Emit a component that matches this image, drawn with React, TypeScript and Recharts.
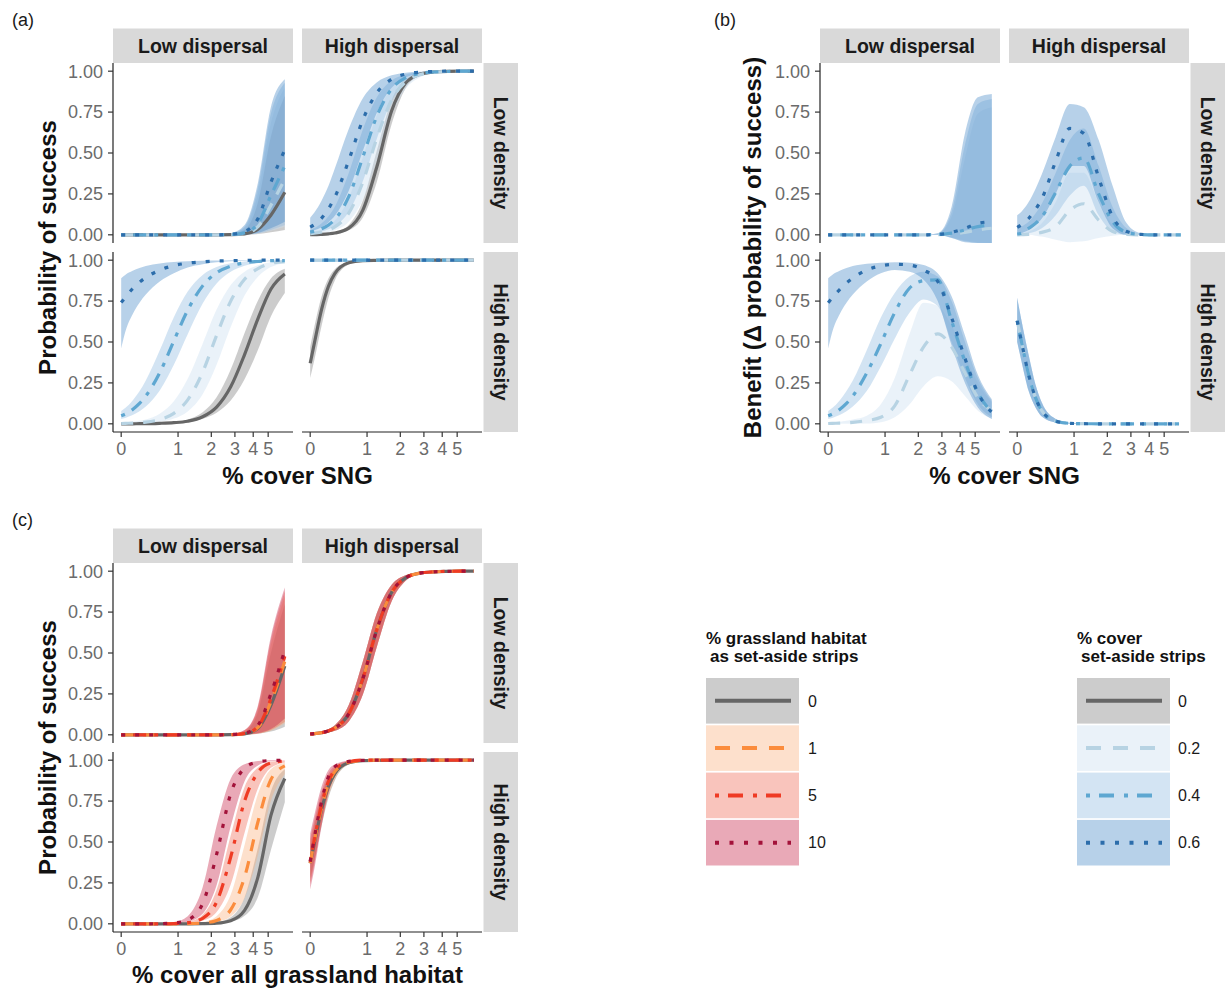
import React from 'react';
import { ComposedChart, Area, Line, XAxis, YAxis } from 'recharts';

// ---------- shared axes ----------
const X_COVER = [0, 0.05, 0.15, 0.25, 0.35, 0.6, 0.9, 1.25, 1.7, 2.2, 2.8, 3.5, 4.3, 5.2, 6.35];
const X_TICK_VALUES = [0, 1, 2, 3, 4, 5];
const Y_TICK_VALUES = [0, 0.25, 0.5, 0.75, 1];

// ---------- (a) Probability of success vs % cover SNG ----------
// Low dispersal / Low density
const aLL_0 = [0, 0, 0, 0, 0, 0, 0, 0, 0, 0, 0.001, 0.006, 0.035, 0.12, 0.26];
const aLL_0_lo = [0, 0, 0, 0, 0, 0, 0, 0, 0, 0, 0, 0.001, 0.005, 0.015, 0.03];
const aLL_0_hi = [0, 0, 0, 0, 0, 0, 0, 0, 0, 0, 0.004, 0.03, 0.2, 0.6, 0.85];
const aLL_2 = [0, 0, 0, 0, 0, 0, 0, 0, 0, 0, 0.001, 0.008, 0.05, 0.18, 0.34];
const aLL_2_lo = [0, 0, 0, 0, 0, 0, 0, 0, 0, 0, 0, 0.001, 0.007, 0.025, 0.05];
const aLL_2_hi = [0, 0, 0, 0, 0, 0, 0, 0, 0, 0, 0.005, 0.04, 0.25, 0.68, 0.9];
const aLL_4 = [0, 0, 0, 0, 0, 0, 0, 0, 0, 0, 0.002, 0.012, 0.07, 0.24, 0.42];
const aLL_4_lo = [0, 0, 0, 0, 0, 0, 0, 0, 0, 0, 0, 0.002, 0.009, 0.03, 0.06];
const aLL_4_hi = [0, 0, 0, 0, 0, 0, 0, 0, 0, 0, 0.007, 0.05, 0.29, 0.74, 0.93];
const aLL_6 = [0, 0, 0, 0, 0, 0, 0, 0, 0, 0, 0.003, 0.02, 0.1, 0.32, 0.52];
const aLL_6_lo = [0, 0, 0, 0, 0, 0, 0, 0, 0, 0, 0, 0.003, 0.012, 0.04, 0.08];
const aLL_6_hi = [0, 0, 0, 0, 0, 0, 0, 0, 0, 0, 0.01, 0.06, 0.32, 0.78, 0.95];
// High dispersal / Low density
const aHL_0 = [0.001, 0.001, 0.003, 0.006, 0.011, 0.041, 0.151, 0.413, 0.758, 0.927, 0.981, 0.995, 0.999, 1, 1];
const aHL_0_lo = [0, 0, 0.002, 0.004, 0.007, 0.028, 0.106, 0.321, 0.677, 0.895, 0.972, 0.993, 0.998, 1, 1];
const aHL_0_hi = [0.001, 0.002, 0.004, 0.008, 0.016, 0.06, 0.209, 0.512, 0.823, 0.95, 0.987, 0.997, 1, 1, 1];
const aHL_2 = [0.007, 0.01, 0.017, 0.029, 0.048, 0.132, 0.322, 0.589, 0.825, 0.935, 0.978, 0.993, 0.998, 1, 1];
const aHL_2_lo = [0.004, 0.005, 0.01, 0.017, 0.028, 0.08, 0.214, 0.45, 0.729, 0.892, 0.962, 0.987, 0.996, 0.999, 1];
const aHL_2_hi = [0.013, 0.018, 0.032, 0.054, 0.087, 0.224, 0.474, 0.731, 0.899, 0.965, 0.988, 0.996, 0.999, 1, 1];
const aHL_4 = [0.016, 0.021, 0.037, 0.06, 0.094, 0.233, 0.475, 0.723, 0.892, 0.96, 0.986, 0.995, 0.998, 1, 1];
const aHL_4_lo = [0.008, 0.011, 0.02, 0.034, 0.053, 0.141, 0.328, 0.586, 0.816, 0.929, 0.975, 0.991, 0.997, 1, 1];
const aHL_4_hi = [0.03, 0.041, 0.071, 0.114, 0.172, 0.378, 0.644, 0.839, 0.943, 0.98, 0.993, 0.998, 1, 1, 1];
const aHL_6 = [0.047, 0.062, 0.102, 0.159, 0.23, 0.455, 0.703, 0.867, 0.951, 0.982, 0.994, 0.998, 1, 1, 1];
const aHL_6_lo = [0.021, 0.028, 0.047, 0.076, 0.116, 0.269, 0.513, 0.745, 0.898, 0.961, 0.986, 0.995, 0.998, 1, 1];
const aHL_6_hi = [0.105, 0.135, 0.21, 0.3, 0.405, 0.647, 0.835, 0.931, 0.975, 0.991, 0.997, 1, 1, 1, 1];
// Low dispersal / High density
const aLH_0 = [0, 0, 0, 0.001, 0.001, 0.003, 0.007, 0.016, 0.043, 0.102, 0.226, 0.423, 0.643, 0.822, 0.915];
const aLH_0_lo = [0, 0, 0, 0, 0.001, 0.003, 0.006, 0.013, 0.031, 0.068, 0.143, 0.273, 0.453, 0.656, 0.8];
const aLH_0_hi = [0, 0, 0.001, 0.001, 0.002, 0.004, 0.011, 0.027, 0.071, 0.162, 0.332, 0.555, 0.754, 0.888, 0.948];
const aLH_2 = [0.002, 0.003, 0.004, 0.007, 0.01, 0.026, 0.064, 0.146, 0.316, 0.54, 0.75, 0.883, 0.949, 0.98, 0.991];
const aLH_2_lo = [0.001, 0.001, 0.002, 0.003, 0.005, 0.012, 0.032, 0.076, 0.181, 0.361, 0.591, 0.784, 0.899, 0.958, 0.982];
const aLH_2_hi = [0.006, 0.008, 0.012, 0.018, 0.027, 0.062, 0.138, 0.275, 0.49, 0.698, 0.848, 0.93, 0.969, 0.987, 0.994];
const aLH_4 = [0.049, 0.059, 0.088, 0.125, 0.17, 0.312, 0.507, 0.695, 0.843, 0.923, 0.964, 0.984, 0.992, 0.997, 0.998];
const aLH_4_lo = [0.029, 0.036, 0.054, 0.077, 0.106, 0.204, 0.361, 0.548, 0.735, 0.858, 0.93, 0.966, 0.984, 0.993, 0.996];
const aLH_4_hi = [0.078, 0.096, 0.143, 0.199, 0.265, 0.449, 0.652, 0.809, 0.91, 0.958, 0.981, 0.992, 0.997, 0.999, 1];
const aLH_6 = [0.741, 0.772, 0.826, 0.865, 0.894, 0.939, 0.967, 0.982, 0.99, 0.995, 0.997, 0.999, 1, 1, 1];
const aLH_6_lo = [0.46, 0.56, 0.67, 0.74, 0.79, 0.87, 0.92, 0.955, 0.975, 0.987, 0.993, 0.997, 0.999, 1, 1];
const aLH_6_hi = [0.89, 0.91, 0.935, 0.952, 0.964, 0.98, 0.989, 0.994, 0.997, 0.998, 1, 1, 1, 1, 1];
// High dispersal / High density
const aHH_0 = [0.37, 0.488, 0.701, 0.841, 0.918, 0.984, 0.997, 0.999, 1, 1, 1, 1, 1, 1, 1];
const aHH_0_lo = [0.28, 0.385, 0.601, 0.771, 0.876, 0.973, 0.995, 0.999, 1, 1, 1, 1, 1, 1, 1];
const aHH_0_hi = [0.47, 0.589, 0.78, 0.889, 0.945, 0.989, 0.998, 1, 1, 1, 1, 1, 1, 1, 1];
const aHH_strips = [1, 1, 1, 1, 1, 1, 1, 1, 1, 1, 1, 1, 1, 1, 1];
const aHH_strips_lo = [0.992, 0.992, 0.992, 0.992, 0.992, 0.992, 0.992, 0.992, 0.992, 0.992, 0.992, 0.992, 0.992, 0.992, 0.992];
const aHH_strips_hi = [1, 1, 1, 1, 1, 1, 1, 1, 1, 1, 1, 1, 1, 1, 1];

// ---------- (b) Benefit (delta probability of success) ----------
const bLL_2 = [0, 0, 0, 0, 0, 0, 0, 0, 0, 0, 0.001, 0.005, 0.015, 0.03, 0.04];
const bLL_2_lo = [0, 0, 0, 0, 0, 0, 0, 0, 0, 0, 0, -0.015, -0.035, -0.045, -0.05];
const bLL_2_hi = [0, 0, 0, 0, 0, 0, 0, 0, 0, 0, 0.006, 0.11, 0.47, 0.74, 0.78];
const bLL_4 = [0, 0, 0, 0, 0, 0, 0, 0, 0, 0, 0.002, 0.01, 0.03, 0.05, 0.06];
const bLL_4_lo = [0, 0, 0, 0, 0, 0, 0, 0, 0, 0, 0, -0.018, -0.04, -0.05, -0.05];
const bLL_4_hi = [0, 0, 0, 0, 0, 0, 0, 0, 0, 0, 0.008, 0.14, 0.55, 0.8, 0.83];
const bLL_6 = [0, 0, 0, 0, 0, 0, 0, 0, 0, 0, 0.002, 0.015, 0.04, 0.07, 0.08];
const bLL_6_lo = [0, 0, 0, 0, 0, 0, 0, 0, 0, 0, 0, -0.02, -0.045, -0.05, -0.05];
const bLL_6_hi = [0, 0, 0, 0, 0, 0, 0, 0, 0, 0, 0.01, 0.17, 0.62, 0.84, 0.86];

const bHL_2 = [0, 0.001, 0.003, 0.007, 0.015, 0.05, 0.15, 0.19, 0.09, 0.02, 0.003, 0, 0, 0, 0];
const bHL_2_lo = [0, 0, 0, -0.005, -0.01, -0.03, -0.045, -0.04, -0.02, -0.005, 0, 0, 0, 0, 0];
const bHL_2_hi = [0.01, 0.01, 0.02, 0.04, 0.07, 0.2, 0.38, 0.38, 0.2, 0.06, 0.01, 0, 0, 0, 0];
const bHL_4 = [0.005, 0.01, 0.04, 0.07, 0.11, 0.26, 0.42, 0.47, 0.25, 0.08, 0.015, 0.002, 0, 0, 0];
const bHL_4_lo = [0, 0, 0.01, 0.02, 0.04, 0.12, 0.24, 0.3, 0.12, 0.02, 0, 0, 0, 0, 0];
const bHL_4_hi = [0.04, 0.05, 0.08, 0.13, 0.19, 0.38, 0.58, 0.65, 0.42, 0.17, 0.04, 0.005, 0, 0, 0];
const bHL_6 = [0.045, 0.06, 0.1, 0.155, 0.22, 0.45, 0.65, 0.62, 0.35, 0.11, 0.02, 0.003, 0, 0, 0];
const bHL_6_lo = [0, 0.01, 0.03, 0.06, 0.1, 0.25, 0.42, 0.42, 0.2, 0.04, 0, 0, 0, 0, 0];
const bHL_6_hi = [0.12, 0.14, 0.2, 0.28, 0.37, 0.6, 0.8, 0.78, 0.58, 0.3, 0.07, 0.01, 0.002, 0, 0];

const bLH_2 = [0.002, 0.003, 0.004, 0.006, 0.009, 0.02, 0.04, 0.11, 0.3, 0.47, 0.55, 0.47, 0.31, 0.16, 0.08];
const bLH_2_lo = [0, 0, 0, 0, 0, 0.002, 0.01, 0.04, 0.12, 0.23, 0.29, 0.26, 0.17, 0.08, 0.03];
const bLH_2_hi = [0.006, 0.008, 0.012, 0.018, 0.027, 0.05, 0.12, 0.28, 0.55, 0.74, 0.72, 0.6, 0.42, 0.25, 0.13];
const bLH_4 = [0.049, 0.059, 0.088, 0.125, 0.17, 0.31, 0.49, 0.68, 0.83, 0.875, 0.88, 0.63, 0.38, 0.19, 0.07];
const bLH_4_lo = [0.029, 0.036, 0.054, 0.077, 0.106, 0.2, 0.35, 0.52, 0.68, 0.76, 0.72, 0.5, 0.28, 0.12, 0.04];
const bLH_4_hi = [0.078, 0.096, 0.143, 0.2, 0.265, 0.45, 0.65, 0.8, 0.9, 0.93, 0.9, 0.75, 0.5, 0.28, 0.14];
const bLH_6 = [0.74, 0.77, 0.82, 0.86, 0.89, 0.94, 0.965, 0.975, 0.97, 0.94, 0.87, 0.65, 0.4, 0.19, 0.07];
const bLH_6_lo = [0.46, 0.56, 0.67, 0.74, 0.79, 0.87, 0.92, 0.94, 0.93, 0.88, 0.75, 0.48, 0.25, 0.1, 0.03];
const bLH_6_hi = [0.89, 0.91, 0.935, 0.952, 0.964, 0.978, 0.985, 0.988, 0.985, 0.97, 0.92, 0.78, 0.54, 0.3, 0.15];

const bHH = [0.63, 0.51, 0.3, 0.16, 0.08, 0.016, 0.003, 0.001, 0, 0, 0, 0, 0, 0, 0];
const bHH_lo = [0.5, 0.39, 0.2, 0.1, 0.045, 0.008, 0.001, 0, 0, 0, 0, 0, 0, 0, 0];
const bHH_hi = [0.77, 0.64, 0.42, 0.24, 0.13, 0.03, 0.006, 0.001, 0, 0, 0, 0, 0, 0, 0];

// ---------- (c) Probability of success vs % cover all grassland habitat ----------
const cLL_0 = [0, 0, 0, 0, 0, 0, 0, 0, 0, 0, 0.001, 0.005, 0.04, 0.18, 0.42];
const cLL_0_lo = [0, 0, 0, 0, 0, 0, 0, 0, 0, 0, 0, 0.001, 0.006, 0.02, 0.05];
const cLL_0_hi = [0, 0, 0, 0, 0, 0, 0, 0, 0, 0, 0.003, 0.02, 0.14, 0.5, 0.8];
const cLL_1 = [0, 0, 0, 0, 0, 0, 0, 0, 0, 0, 0.001, 0.006, 0.045, 0.2, 0.45];
const cLL_1_lo = [0, 0, 0, 0, 0, 0, 0, 0, 0, 0, 0, 0.001, 0.007, 0.025, 0.07];
const cLL_1_hi = [0, 0, 0, 0, 0, 0, 0, 0, 0, 0, 0.004, 0.025, 0.16, 0.55, 0.85];
const cLL_5 = [0, 0, 0, 0, 0, 0, 0, 0, 0, 0, 0.001, 0.008, 0.05, 0.22, 0.48];
const cLL_5_lo = [0, 0, 0, 0, 0, 0, 0, 0, 0, 0, 0, 0.002, 0.008, 0.03, 0.08];
const cLL_5_hi = [0, 0, 0, 0, 0, 0, 0, 0, 0, 0, 0.005, 0.028, 0.17, 0.58, 0.88];
const cLL_10 = [0, 0, 0, 0, 0, 0, 0, 0, 0, 0, 0.002, 0.01, 0.06, 0.25, 0.52];
const cLL_10_lo = [0, 0, 0, 0, 0, 0, 0, 0, 0, 0, 0, 0.002, 0.01, 0.035, 0.1];
const cLL_10_hi = [0, 0, 0, 0, 0, 0, 0, 0, 0, 0, 0.006, 0.03, 0.18, 0.6, 0.9];

const cHL = [0.005, 0.007, 0.013, 0.024, 0.041, 0.128, 0.343, 0.641, 0.871, 0.959, 0.988, 0.996, 0.999, 1, 1];
const cHL_lo = [0.003, 0.004, 0.008, 0.014, 0.025, 0.082, 0.246, 0.535, 0.816, 0.941, 0.983, 0.995, 0.998, 1, 1];
const cHL_hi = [0.007, 0.01, 0.019, 0.034, 0.059, 0.182, 0.448, 0.741, 0.917, 0.975, 0.993, 0.998, 1, 1, 1];

const cLH_0 = [0, 0, 0, 0, 0, 0, 0, 0, 0.001, 0.004, 0.019, 0.082, 0.287, 0.661, 0.888];
const cLH_0_lo = [0, 0, 0, 0, 0, 0, 0, 0, 0, 0.003, 0.013, 0.049, 0.165, 0.45, 0.743];
const cLH_0_hi = [0, 0, 0, 0, 0, 0, 0, 0, 0.002, 0.009, 0.04, 0.163, 0.467, 0.809, 0.945];
const cLH_1 = [0, 0, 0, 0, 0, 0, 0, 0.001, 0.005, 0.021, 0.086, 0.285, 0.624, 0.881, 0.965];
const cLH_1_lo = [0, 0, 0, 0, 0, 0, 0, 0, 0.003, 0.011, 0.045, 0.158, 0.421, 0.75, 0.914];
const cLH_1_hi = [0, 0, 0, 0, 0, 0, 0, 0.002, 0.011, 0.047, 0.178, 0.482, 0.794, 0.945, 0.985];
const cLH_5 = [0, 0, 0, 0, 0, 0, 0.002, 0.007, 0.034, 0.133, 0.408, 0.75, 0.926, 0.983, 0.995];
const cLH_5_lo = [0, 0, 0, 0, 0, 0, 0, 0.004, 0.019, 0.072, 0.24, 0.557, 0.829, 0.953, 0.986];
const cLH_5_hi = [0, 0, 0, 0, 0, 0, 0.003, 0.012, 0.056, 0.208, 0.54, 0.836, 0.955, 0.99, 0.997];
const cLH_10 = [0, 0, 0, 0, 0, 0.001, 0.005, 0.024, 0.124, 0.424, 0.795, 0.951, 0.99, 0.998, 1];
const cLH_10_lo = [0, 0, 0, 0, 0, 0, 0.003, 0.012, 0.061, 0.235, 0.596, 0.872, 0.968, 0.993, 0.998];
const cLH_10_hi = [0, 0, 0, 0, 0, 0.002, 0.01, 0.047, 0.223, 0.599, 0.887, 0.975, 0.995, 0.999, 1];

const cHH_0 = [0.37, 0.488, 0.701, 0.841, 0.918, 0.984, 0.997, 0.999, 1, 1, 1, 1, 1, 1, 1];
const cHH_0_lo = [0.28, 0.385, 0.601, 0.771, 0.876, 0.973, 0.995, 0.999, 1, 1, 1, 1, 1, 1, 1];
const cHH_0_hi = [0.47, 0.589, 0.78, 0.889, 0.945, 0.989, 0.998, 1, 1, 1, 1, 1, 1, 1, 1];
const cHH_1 = [0.37, 0.5, 0.71, 0.855, 0.93, 0.987, 0.998, 1, 1, 1, 1, 1, 1, 1, 1];
const cHH_1_lo = [0.26, 0.37, 0.61, 0.78, 0.88, 0.975, 0.995, 1, 1, 1, 1, 1, 1, 1, 1];
const cHH_1_hi = [0.5, 0.61, 0.79, 0.9, 0.955, 0.993, 1, 1, 1, 1, 1, 1, 1, 1, 1];
const cHH_5 = [0.38, 0.51, 0.73, 0.87, 0.94, 0.99, 1, 1, 1, 1, 1, 1, 1, 1, 1];
const cHH_5_lo = [0.24, 0.36, 0.62, 0.8, 0.9, 0.98, 0.996, 1, 1, 1, 1, 1, 1, 1, 1];
const cHH_5_hi = [0.52, 0.63, 0.81, 0.92, 0.965, 0.995, 1, 1, 1, 1, 1, 1, 1, 1, 1];
const cHH_10 = [0.38, 0.52, 0.75, 0.9, 0.96, 0.993, 0.999, 1, 1, 1, 1, 1, 1, 1, 1];
const cHH_10_lo = [0.21, 0.33, 0.6, 0.8, 0.9, 0.98, 0.996, 1, 1, 1, 1, 1, 1, 1, 1];
const cHH_10_hi = [0.55, 0.66, 0.84, 0.94, 0.975, 0.997, 1, 1, 1, 1, 1, 1, 1, 1, 1];

// ---------- legend labels ----------
const LEG_RED_LABELS = ['0', '1', '5', '10'];
const LEG_BLUE_LABELS = ['0', '0.2', '0.4', '0.6'];

// ---------- styles ----------
type Sty = { stroke: string; fill: string; dash: string };
const DASH_PLOT: Record<string, string | undefined> = { solid: undefined, dashed: '12 10', dotdash: '4 8 13 8', dotted: '4 10' };
const DASH_LEG: Record<string, string | undefined> = { solid: undefined, dashed: '15 12', dotdash: '4 9 15 10', dotted: '4 10.5' };
const S_GRAY: Sty = { stroke: '#666666', fill: '#808080', dash: 'solid' };
const S_B2: Sty = { stroke: '#b7d3e3', fill: '#cbdff0', dash: 'dashed' };
const S_B4: Sty = { stroke: '#5ea7d1', fill: '#91bce1', dash: 'dotdash' };
const S_B6: Sty = { stroke: '#2c6dab', fill: '#4a8cc7', dash: 'dotted' };
const S_R1: Sty = { stroke: '#fb8c3c', fill: '#fab280', dash: 'dashed' };
const S_R5: Sty = { stroke: '#ef3b24', fill: '#f06c58', dash: 'dotdash' };
const S_R10: Sty = { stroke: '#a3123a', fill: '#c8284b', dash: 'dotted' };
const FILL_OP = 0.4;

const ser = (m: number[], lo: number[], hi: number[], style: Sty) => ({ m, lo, hi, style });

const FACETS_A = [
  [
    [ser(aLL_0, aLL_0_lo, aLL_0_hi, S_GRAY), ser(aLL_2, aLL_2_lo, aLL_2_hi, S_B2), ser(aLL_4, aLL_4_lo, aLL_4_hi, S_B4), ser(aLL_6, aLL_6_lo, aLL_6_hi, S_B6)],
    [ser(aHL_0, aHL_0_lo, aHL_0_hi, S_GRAY), ser(aHL_2, aHL_2_lo, aHL_2_hi, S_B2), ser(aHL_4, aHL_4_lo, aHL_4_hi, S_B4), ser(aHL_6, aHL_6_lo, aHL_6_hi, S_B6)],
  ],
  [
    [ser(aLH_0, aLH_0_lo, aLH_0_hi, S_GRAY), ser(aLH_2, aLH_2_lo, aLH_2_hi, S_B2), ser(aLH_4, aLH_4_lo, aLH_4_hi, S_B4), ser(aLH_6, aLH_6_lo, aLH_6_hi, S_B6)],
    [ser(aHH_0, aHH_0_lo, aHH_0_hi, S_GRAY), ser(aHH_strips, aHH_strips_lo, aHH_strips_hi, S_B2), ser(aHH_strips, aHH_strips_lo, aHH_strips_hi, S_B4), ser(aHH_strips, aHH_strips_lo, aHH_strips_hi, S_B6)],
  ],
];
const FACETS_B = [
  [
    [ser(bLL_2, bLL_2_lo, bLL_2_hi, S_B2), ser(bLL_4, bLL_4_lo, bLL_4_hi, S_B4), ser(bLL_6, bLL_6_lo, bLL_6_hi, S_B6)],
    [ser(bHL_2, bHL_2_lo, bHL_2_hi, S_B2), ser(bHL_4, bHL_4_lo, bHL_4_hi, S_B4), ser(bHL_6, bHL_6_lo, bHL_6_hi, S_B6)],
  ],
  [
    [ser(bLH_2, bLH_2_lo, bLH_2_hi, S_B2), ser(bLH_4, bLH_4_lo, bLH_4_hi, S_B4), ser(bLH_6, bLH_6_lo, bLH_6_hi, S_B6)],
    [ser(bHH, bHH_lo, bHH_hi, S_B2), ser(bHH, bHH_lo, bHH_hi, S_B4), ser(bHH, bHH_lo, bHH_hi, S_B6)],
  ],
];
const FACETS_C = [
  [
    [ser(cLL_0, cLL_0_lo, cLL_0_hi, S_GRAY), ser(cLL_1, cLL_1_lo, cLL_1_hi, S_R1), ser(cLL_5, cLL_5_lo, cLL_5_hi, S_R5), ser(cLL_10, cLL_10_lo, cLL_10_hi, S_R10)],
    [ser(cHL, cHL_lo, cHL_hi, S_GRAY), ser(cHL, cHL_lo, cHL_hi, S_R1), ser(cHL, cHL_lo, cHL_hi, S_R5), ser(cHL, cHL_lo, cHL_hi, S_R10)],
  ],
  [
    [ser(cLH_0, cLH_0_lo, cLH_0_hi, S_GRAY), ser(cLH_1, cLH_1_lo, cLH_1_hi, S_R1), ser(cLH_5, cLH_5_lo, cLH_5_hi, S_R5), ser(cLH_10, cLH_10_lo, cLH_10_hi, S_R10)],
    [ser(cHH_0, cHH_0_lo, cHH_0_hi, S_GRAY), ser(cHH_1, cHH_1_lo, cHH_1_hi, S_R1), ser(cHH_5, cHH_5_lo, cHH_5_hi, S_R5), ser(cHH_10, cHH_10_lo, cHH_10_hi, S_R10)],
  ],
];

// ---------- layout ----------
const PW = 180;
const PH = 180;
const YW = 60;
const XH = 36;
const PAD = 12;
const X_DOMAIN: [number, number] = [-0.0998, 2.0945];
const Y_DOMAIN: [number, number] = [-0.05, 1.05];
const X_TICKS_T = X_TICK_VALUES.map((v) => Math.log1p(v));
const BOLD = '"Liberation Sans", Arial, Helvetica, sans-serif';
const REG = '"Liberation Sans", Arial, Helvetica, sans-serif';
const TICK_STYLE = { fontSize: 18, fill: '#6b6b6b', fontFamily: REG };
const AXIS_LINE = { stroke: '#222222', strokeWidth: 1.2 };
const TICK_LINE = { stroke: '#333333', strokeWidth: 1.2 };

const PANELS = [
  { label: '(a)', lx: 12, ly: 26, cols: [113, 302], rows: [63, 252], facets: FACETS_A, ytitle: 'Probability of success', ytx: 47, xtitle: '% cover SNG', xty: 484 },
  { label: '(b)', lx: 714, ly: 26, cols: [820, 1009], rows: [63, 252], facets: FACETS_B, ytitle: 'Benefit (\u0394 probability of success)', ytx: 752, xtitle: '% cover SNG', xty: 484 },
  { label: '(c)', lx: 12, ly: 526, cols: [113, 302], rows: [563, 752], facets: FACETS_C, ytitle: 'Probability of success', ytx: 47, xtitle: '% cover all grassland habitat', xty: 983 },
];
const COL_NAMES = ['Low dispersal', 'High dispersal'];
const ROW_NAMES = ['Low density', 'High density'];

function Facet({ left, top, series, showX, showY }: any) {
  const rows = X_COVER.map((x, i) => {
    const r: Record<string, any> = { t: Math.log1p(x) };
    series.forEach((s: any, k: number) => {
      r['m' + k] = s.m[i];
      r['b' + k] = [s.lo[i], s.hi[i]];
    });
    return r;
  });
  const w = PW + (showY ? YW : 0);
  const h = PH + (showX ? XH : 0) + 2 * PAD;
  return (
    <div style={{ position: 'absolute', left: left - (showY ? YW : 0), top: top - PAD, width: w, height: h }}>
      <ComposedChart width={w} height={h} data={rows} margin={{ top: PAD, right: 0, bottom: PAD, left: 0 }}>
        <XAxis
          type="number"
          dataKey="t"
          domain={X_DOMAIN}
          ticks={X_TICKS_T}
          allowDataOverflow
          interval={0}
          hide={!showX}
          height={XH}
          tick={TICK_STYLE}
          tickSize={5}
          tickMargin={5}
          axisLine={AXIS_LINE}
          tickLine={TICK_LINE}
          tickFormatter={(v: number) => String(Math.round(Math.expm1(v)))}
        />
        <YAxis
          type="number"
          domain={Y_DOMAIN}
          ticks={Y_TICK_VALUES}
          allowDataOverflow
          interval={0}
          hide={!showY}
          width={YW}
          tick={TICK_STYLE}
          tickSize={5}
          tickMargin={5}
          axisLine={AXIS_LINE}
          tickLine={TICK_LINE}
          tickFormatter={(v: number) => v.toFixed(2)}
        />
        {series.map((s: any, k: number) => (
          <Area
            key={'a' + k}
            dataKey={'b' + k}
            type="monotone"
            stroke="none"
            fill={s.style.fill}
            fillOpacity={FILL_OP}
            isAnimationActive={false}
            dot={false}
            activeDot={false}
          />
        ))}
        {series.map((s: any, k: number) => (
          <Line
            key={'l' + k}
            dataKey={'m' + k}
            type="monotone"
            stroke={s.style.stroke}
            strokeWidth={3.2}
            strokeDasharray={DASH_PLOT[s.style.dash]}
            dot={false}
            activeDot={false}
            isAnimationActive={false}
          />
        ))}
      </ComposedChart>
    </div>
  );
}

function Legend({ x, title1, title2, t2x, labels, styles, lx }: any) {
  const top0 = 678;
  const pitch = 47.3;
  const kh = 45.6;
  const kw = 93;
  return (
    <g>
      <text x={x} y={644} fontFamily={BOLD} fontWeight="bold" fontSize={17} fill="#111">{title1}</text>
      <text x={t2x} y={662} fontFamily={BOLD} fontWeight="bold" fontSize={17} fill="#111">{title2}</text>
      {styles.map((s: Sty, i: number) => {
        const y = top0 + i * pitch;
        return (
          <g key={i}>
            <rect x={x} y={y} width={kw} height={kh} fill={s.fill} fillOpacity={FILL_OP} />
            <line x1={x + 9} x2={x + 85} y1={y + kh / 2} y2={y + kh / 2} stroke={s.stroke} strokeWidth={4} strokeDasharray={DASH_LEG[s.dash]} />
            <text x={lx} y={y + kh / 2} dy="0.36em" fontFamily={REG} fontSize={16} fill="#1a1a1a">{labels[i]}</text>
          </g>
        );
      })}
    </g>
  );
}

export default function App() {
  return (
    <div style={{ position: 'absolute', left: 0, top: 0, width: 1228, height: 990, background: '#ffffff', overflow: 'hidden' }}>
      <svg width={1228} height={990} style={{ position: 'absolute', left: 0, top: 0 }}>
        {PANELS.map((p, pi) => {
          const stripH = 34.5;
          const right = p.cols[1] + PW;
          return (
            <g key={pi}>
              <text x={p.lx} y={p.ly} fontFamily={REG} fontSize={18} fill="#1a1a1a">{p.label}</text>
              {p.cols.map((cx, ci) => (
                <g key={'c' + ci}>
                  <rect x={cx} y={p.rows[0] - stripH} width={PW} height={stripH} fill="#d9d9d9" />
                  <text x={cx + PW / 2} y={p.rows[0] - stripH / 2} dy="0.36em" textAnchor="middle" fontFamily={BOLD} fontWeight="bold" fontSize={19.5} fill="#1a1a1a">{COL_NAMES[ci]}</text>
                </g>
              ))}
              {p.rows.map((ry, ri) => (
                <g key={'r' + ri}>
                  <rect x={right + 1.5} y={ry} width={stripH} height={PH} fill="#d9d9d9" />
                  <text transform={`translate(${right + 1.5 + stripH / 2},${ry + PH / 2}) rotate(90)`} dy="0.36em" textAnchor="middle" fontFamily={BOLD} fontWeight="bold" fontSize={19.5} fill="#1a1a1a">{ROW_NAMES[ri]}</text>
                </g>
              ))}
              <text transform={`translate(${p.ytx},${(p.rows[0] + p.rows[1] + PH) / 2}) rotate(-90)`} dy="0.36em" textAnchor="middle" fontFamily={BOLD} fontWeight="bold" fontSize={24} fill="#111">{p.ytitle}</text>
              <text x={(p.cols[0] + right) / 2} y={p.xty} textAnchor="middle" fontFamily={BOLD} fontWeight="bold" fontSize={24} fill="#111">{p.xtitle}</text>
            </g>
          );
        })}
        <Legend x={706} t2x={710} lx={808} title1="% grassland habitat" title2="as set-aside strips" labels={LEG_RED_LABELS} styles={[S_GRAY, S_R1, S_R5, S_R10]} />
        <Legend x={1077} t2x={1081} lx={1178} title1="% cover" title2="set-aside strips" labels={LEG_BLUE_LABELS} styles={[S_GRAY, S_B2, S_B4, S_B6]} />
      </svg>
      {PANELS.map((p, pi) =>
        p.rows.map((ry, ri) =>
          p.cols.map((cx, ci) => (
            <Facet
              key={`${pi}-${ri}-${ci}`}
              left={cx}
              top={ry}
              series={p.facets[ri][ci]}
              showX={ri === 1}
              showY={ci === 0}
            />
          ))
        )
      )}
    </div>
  );
}
